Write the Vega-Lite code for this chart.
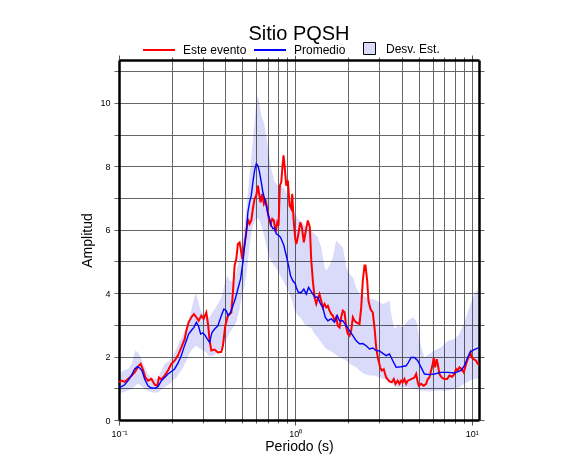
{
  "$schema": "https://vega.github.io/schema/vega-lite/v6.json",
  "width": 360,
  "height": 360,
  "autosize": {"type": "none"},
  "padding": {"left": 119, "top": 60, "right": 107, "bottom": 55},
  "background": "white",
  "config": {
    "font": "Liberation Sans",
    "view": {"stroke": null},
    "axis": {"labelFont": "Liberation Sans", "titleFont": "Liberation Sans", "labelColor": "black", "titleColor": "black", "titleFontWeight": "normal"}
  },
  "title": {"text": "Sitio PQSH", "fontSize": 20, "font": "Liberation Sans", "fontWeight": "normal", "color": "black", "anchor": "middle", "offset": -11},
  "datasets": {
    "banda": [
      {"periodo": 0.1, "sup": 1.40, "inf": 0.87},
      {"periodo": 0.1054, "sup": 1.56, "inf": 0.87},
      {"periodo": 0.1125, "sup": 1.61, "inf": 0.93},
      {"periodo": 0.1176, "sup": 1.75, "inf": 0.98},
      {"periodo": 0.1238, "sup": 2.19, "inf": 1.08},
      {"periodo": 0.1281, "sup": 2.13, "inf": 1.14},
      {"periodo": 0.1339, "sup": 1.92, "inf": 1.08},
      {"periodo": 0.1398, "sup": 1.66, "inf": 0.98},
      {"periodo": 0.146, "sup": 1.45, "inf": 0.92},
      {"periodo": 0.1558, "sup": 1.29, "inf": 0.87},
      {"periodo": 0.1663, "sup": 1.32, "inf": 0.87},
      {"periodo": 0.1739, "sup": 1.56, "inf": 0.95},
      {"periodo": 0.1815, "sup": 1.77, "inf": 1.03},
      {"periodo": 0.1938, "sup": 1.87, "inf": 1.14},
      {"periodo": 0.2023, "sup": 2.03, "inf": 1.25},
      {"periodo": 0.2115, "sup": 2.24, "inf": 1.34},
      {"periodo": 0.2208, "sup": 2.5, "inf": 1.5},
      {"periodo": 0.2305, "sup": 2.66, "inf": 1.65},
      {"periodo": 0.2409, "sup": 2.92, "inf": 1.87},
      {"periodo": 0.2515, "sup": 3.24, "inf": 2.1},
      {"periodo": 0.2592, "sup": 3.55, "inf": 2.22},
      {"periodo": 0.2685, "sup": 3.92, "inf": 2.3},
      {"periodo": 0.2745, "sup": 3.97, "inf": 2.34},
      {"periodo": 0.2803, "sup": 3.76, "inf": 2.3},
      {"periodo": 0.2903, "sup": 3.45, "inf": 2.24},
      {"periodo": 0.2991, "sup": 3.34, "inf": 2.2},
      {"periodo": 0.3127, "sup": 3.19, "inf": 2.13},
      {"periodo": 0.3265, "sup": 3.25, "inf": 2.0},
      {"periodo": 0.3485, "sup": 3.5, "inf": 2.05},
      {"periodo": 0.372, "sup": 3.75, "inf": 2.2},
      {"periodo": 0.3883, "sup": 4.0, "inf": 2.35},
      {"periodo": 0.4006, "sup": 4.4, "inf": 2.47},
      {"periodo": 0.4113, "sup": 4.55, "inf": 2.6},
      {"periodo": 0.4238, "sup": 4.39, "inf": 2.76},
      {"periodo": 0.4425, "sup": 4.34, "inf": 2.9},
      {"periodo": 0.4626, "sup": 4.66, "inf": 3.08},
      {"periodo": 0.4829, "sup": 5.18, "inf": 3.5},
      {"periodo": 0.4976, "sup": 5.6, "inf": 3.9},
      {"periodo": 0.5155, "sup": 6.13, "inf": 4.24},
      {"periodo": 0.534, "sup": 6.97, "inf": 4.8},
      {"periodo": 0.5501, "sup": 7.71, "inf": 5.5},
      {"periodo": 0.5669, "sup": 8.44, "inf": 5.98},
      {"periodo": 0.5819, "sup": 9.18, "inf": 6.2},
      {"periodo": 0.6004, "sup": 10.02, "inf": 6.34},
      {"periodo": 0.6131, "sup": 10.23, "inf": 6.36},
      {"periodo": 0.6269, "sup": 9.92, "inf": 6.28},
      {"periodo": 0.6409, "sup": 9.6, "inf": 6.15},
      {"periodo": 0.663, "sup": 9.39, "inf": 5.85},
      {"periodo": 0.6842, "sup": 8.97, "inf": 5.5},
      {"periodo": 0.7049, "sup": 8.44, "inf": 5.2},
      {"periodo": 0.7303, "sup": 7.92, "inf": 5.0},
      {"periodo": 0.7625, "sup": 7.5, "inf": 4.85},
      {"periodo": 0.7958, "sup": 7.39, "inf": 4.7},
      {"periodo": 0.8321, "sup": 7.39, "inf": 4.5},
      {"periodo": 0.8686, "sup": 7.29, "inf": 4.3},
      {"periodo": 0.9069, "sup": 7.08, "inf": 4.1},
      {"periodo": 0.948, "sup": 6.76, "inf": 3.85},
      {"periodo": 0.9897, "sup": 6.55, "inf": 3.47},
      {"periodo": 1.033, "sup": 6.34, "inf": 3.3},
      {"periodo": 1.08, "sup": 6.25, "inf": 3.2},
      {"periodo": 1.127, "sup": 6.15, "inf": 3.03},
      {"periodo": 1.177, "sup": 6.05, "inf": 2.95},
      {"periodo": 1.231, "sup": 5.97, "inf": 2.9},
      {"periodo": 1.285, "sup": 5.87, "inf": 2.72},
      {"periodo": 1.341, "sup": 5.76, "inf": 2.6},
      {"periodo": 1.402, "sup": 5.45, "inf": 2.45},
      {"periodo": 1.464, "sup": 4.82, "inf": 2.29},
      {"periodo": 1.497, "sup": 4.71, "inf": 2.25},
      {"periodo": 1.563, "sup": 4.87, "inf": 2.19},
      {"periodo": 1.631, "sup": 5.13, "inf": 2.13},
      {"periodo": 1.705, "sup": 5.66, "inf": 2.05},
      {"periodo": 1.78, "sup": 5.55, "inf": 1.97},
      {"periodo": 1.858, "sup": 5.45, "inf": 1.92},
      {"periodo": 1.943, "sup": 4.82, "inf": 1.87},
      {"periodo": 2.028, "sup": 4.61, "inf": 1.77},
      {"periodo": 2.118, "sup": 4.5, "inf": 1.72},
      {"periodo": 2.213, "sup": 4.18, "inf": 1.66},
      {"periodo": 2.311, "sup": 3.97, "inf": 1.56},
      {"periodo": 2.467, "sup": 3.9, "inf": 1.45},
      {"periodo": 2.633, "sup": 3.82, "inf": 1.4},
      {"periodo": 2.81, "sup": 3.8, "inf": 1.4},
      {"periodo": 3.0, "sup": 3.71, "inf": 1.34},
      {"periodo": 3.132, "sup": 3.66, "inf": 1.3},
      {"periodo": 3.273, "sup": 3.7, "inf": 1.27},
      {"periodo": 3.417, "sup": 3.76, "inf": 1.24},
      {"periodo": 3.494, "sup": 3.34, "inf": 1.2},
      {"periodo": 3.568, "sup": 3.1, "inf": 1.17},
      {"periodo": 3.648, "sup": 2.87, "inf": 1.05},
      {"periodo": 3.808, "sup": 2.97, "inf": 1.03},
      {"periodo": 4.065, "sup": 2.92, "inf": 1.03},
      {"periodo": 4.339, "sup": 3.13, "inf": 1.03},
      {"periodo": 4.631, "sup": 3.24, "inf": 1.0},
      {"periodo": 4.842, "sup": 3.13, "inf": 0.98},
      {"periodo": 5.008, "sup": 2.71, "inf": 0.95},
      {"periodo": 5.167, "sup": 2.29, "inf": 0.92},
      {"periodo": 5.395, "sup": 1.97, "inf": 0.92},
      {"periodo": 5.758, "sup": 2.08, "inf": 0.9},
      {"periodo": 6.148, "sup": 2.19, "inf": 0.92},
      {"periodo": 6.709, "sup": 2.29, "inf": 0.92},
      {"periodo": 7.311, "sup": 2.5, "inf": 0.93},
      {"periodo": 7.98, "sup": 2.55, "inf": 0.98},
      {"periodo": 8.517, "sup": 2.71, "inf": 1.03},
      {"periodo": 9.091, "sup": 3.08, "inf": 1.14},
      {"periodo": 9.705, "sup": 3.55, "inf": 1.24},
      {"periodo": 10.36, "sup": 3.97, "inf": 1.29},
      {"periodo": 11, "sup": 4.15, "inf": 1.3}
    ],
    "evento": [
      {"periodo": 0.1, "amplitud": 1.19},
      {"periodo": 0.1032, "amplitud": 1.24},
      {"periodo": 0.1077, "amplitud": 1.2},
      {"periodo": 0.115, "amplitud": 1.34},
      {"periodo": 0.1227, "amplitud": 1.5},
      {"periodo": 0.1293, "amplitud": 1.71},
      {"periodo": 0.1327, "amplitud": 1.77},
      {"periodo": 0.1368, "amplitud": 1.58},
      {"periodo": 0.1411, "amplitud": 1.34},
      {"periodo": 0.146, "amplitud": 1.24},
      {"periodo": 0.1526, "amplitud": 1.3},
      {"periodo": 0.1593, "amplitud": 1.11},
      {"periodo": 0.1651, "amplitud": 1.08},
      {"periodo": 0.1685, "amplitud": 1.34},
      {"periodo": 0.1739, "amplitud": 1.28},
      {"periodo": 0.1815, "amplitud": 1.4},
      {"periodo": 0.1895, "amplitud": 1.56},
      {"periodo": 0.1981, "amplitud": 1.77},
      {"periodo": 0.2068, "amplitud": 1.87},
      {"periodo": 0.2159, "amplitud": 2.03},
      {"periodo": 0.2257, "amplitud": 2.29},
      {"periodo": 0.2356, "amplitud": 2.55},
      {"periodo": 0.2409, "amplitud": 2.82},
      {"periodo": 0.2482, "amplitud": 3.08},
      {"periodo": 0.2572, "amplitud": 3.24},
      {"periodo": 0.266, "amplitud": 3.34},
      {"periodo": 0.2745, "amplitud": 3.24},
      {"periodo": 0.2829, "amplitud": 3.13},
      {"periodo": 0.293, "amplitud": 3.29},
      {"periodo": 0.3019, "amplitud": 3.19},
      {"periodo": 0.3127, "amplitud": 3.39},
      {"periodo": 0.3202, "amplitud": 3.0},
      {"periodo": 0.3265, "amplitud": 2.5},
      {"periodo": 0.3338, "amplitud": 2.19},
      {"periodo": 0.3485, "amplitud": 2.22},
      {"periodo": 0.3638, "amplitud": 2.13},
      {"periodo": 0.3803, "amplitud": 2.15},
      {"periodo": 0.3883, "amplitud": 2.34},
      {"periodo": 0.4006, "amplitud": 2.97},
      {"periodo": 0.4145, "amplitud": 3.29},
      {"periodo": 0.4333, "amplitud": 3.39},
      {"periodo": 0.4425, "amplitud": 4.02},
      {"periodo": 0.4524, "amplitud": 4.87},
      {"periodo": 0.4626, "amplitud": 5.08},
      {"periodo": 0.4723, "amplitud": 5.55},
      {"periodo": 0.4829, "amplitud": 5.6},
      {"periodo": 0.4937, "amplitud": 5.29},
      {"periodo": 0.5002, "amplitud": 5.08},
      {"periodo": 0.5108, "amplitud": 5.39},
      {"periodo": 0.527, "amplitud": 5.92},
      {"periodo": 0.5381, "amplitud": 6.34},
      {"periodo": 0.5501, "amplitud": 6.18},
      {"periodo": 0.5625, "amplitud": 6.29},
      {"periodo": 0.5744, "amplitud": 6.66},
      {"periodo": 0.5872, "amplitud": 6.97},
      {"periodo": 0.6004, "amplitud": 7.08},
      {"periodo": 0.6131, "amplitud": 7.39},
      {"periodo": 0.6211, "amplitud": 7.18},
      {"periodo": 0.635, "amplitud": 6.86},
      {"periodo": 0.6493, "amplitud": 7.13},
      {"periodo": 0.663, "amplitud": 6.81},
      {"periodo": 0.6779, "amplitud": 6.92},
      {"periodo": 0.6931, "amplitud": 6.66},
      {"periodo": 0.7077, "amplitud": 6.34},
      {"periodo": 0.7236, "amplitud": 6.18},
      {"periodo": 0.7398, "amplitud": 6.34},
      {"periodo": 0.7555, "amplitud": 6.29},
      {"periodo": 0.7724, "amplitud": 5.92},
      {"periodo": 0.7898, "amplitud": 6.23},
      {"periodo": 0.8032, "amplitud": 6.13},
      {"periodo": 0.817, "amplitud": 7.39},
      {"periodo": 0.8321, "amplitud": 7.5},
      {"periodo": 0.843, "amplitud": 7.92},
      {"periodo": 0.8573, "amplitud": 8.34},
      {"periodo": 0.8686, "amplitud": 8.02},
      {"periodo": 0.8881, "amplitud": 7.39},
      {"periodo": 0.9069, "amplitud": 7.55},
      {"periodo": 0.9272, "amplitud": 6.76},
      {"periodo": 0.948, "amplitud": 6.66},
      {"periodo": 0.9603, "amplitud": 7.13},
      {"periodo": 0.9768, "amplitud": 6.34},
      {"periodo": 0.999, "amplitud": 5.71},
      {"periodo": 1.012, "amplitud": 5.55},
      {"periodo": 1.033, "amplitud": 5.76},
      {"periodo": 1.066, "amplitud": 6.23},
      {"periodo": 1.089, "amplitud": 6.08},
      {"periodo": 1.117, "amplitud": 5.6},
      {"periodo": 1.147, "amplitud": 5.97},
      {"periodo": 1.177, "amplitud": 6.29},
      {"periodo": 1.208, "amplitud": 6.08},
      {"periodo": 1.231, "amplitud": 5.03},
      {"periodo": 1.257, "amplitud": 4.39},
      {"periodo": 1.285, "amplitud": 3.87},
      {"periodo": 1.314, "amplitud": 3.66},
      {"periodo": 1.341, "amplitud": 3.82},
      {"periodo": 1.371, "amplitud": 3.97},
      {"periodo": 1.402, "amplitud": 3.76},
      {"periodo": 1.431, "amplitud": 3.55},
      {"periodo": 1.464, "amplitud": 3.66},
      {"periodo": 1.497, "amplitud": 3.55},
      {"periodo": 1.528, "amplitud": 3.6},
      {"periodo": 1.563, "amplitud": 3.45},
      {"periodo": 1.598, "amplitud": 3.34},
      {"periodo": 1.631, "amplitud": 3.29},
      {"periodo": 1.668, "amplitud": 3.13},
      {"periodo": 1.705, "amplitud": 3.24},
      {"periodo": 1.741, "amplitud": 2.97},
      {"periodo": 1.78, "amplitud": 2.92},
      {"periodo": 1.82, "amplitud": 3.24},
      {"periodo": 1.858, "amplitud": 3.45},
      {"periodo": 1.9, "amplitud": 3.4},
      {"periodo": 1.943, "amplitud": 2.92},
      {"periodo": 1.984, "amplitud": 2.71},
      {"periodo": 2.028, "amplitud": 2.66},
      {"periodo": 2.074, "amplitud": 2.82},
      {"periodo": 2.118, "amplitud": 3.24},
      {"periodo": 2.165, "amplitud": 3.13},
      {"periodo": 2.213, "amplitud": 3.08},
      {"periodo": 2.311, "amplitud": 3.03},
      {"periodo": 2.363, "amplitud": 3.55},
      {"periodo": 2.412, "amplitud": 4.39},
      {"periodo": 2.467, "amplitud": 4.87},
      {"periodo": 2.499, "amplitud": 4.87},
      {"periodo": 2.555, "amplitud": 4.39},
      {"periodo": 2.598, "amplitud": 3.76},
      {"periodo": 2.667, "amplitud": 3.5},
      {"periodo": 2.748, "amplitud": 3.39},
      {"periodo": 2.81, "amplitud": 2.92},
      {"periodo": 2.873, "amplitud": 2.29},
      {"periodo": 2.934, "amplitud": 1.97},
      {"periodo": 3.027, "amplitud": 1.66},
      {"periodo": 3.091, "amplitud": 1.56},
      {"periodo": 3.172, "amplitud": 1.6},
      {"periodo": 3.273, "amplitud": 1.34},
      {"periodo": 3.417, "amplitud": 1.22},
      {"periodo": 3.522, "amplitud": 1.19},
      {"periodo": 3.615, "amplitud": 1.29},
      {"periodo": 3.696, "amplitud": 1.14},
      {"periodo": 3.808, "amplitud": 1.24},
      {"periodo": 3.894, "amplitud": 1.14},
      {"periodo": 3.981, "amplitud": 1.24},
      {"periodo": 4.065, "amplitud": 1.19},
      {"periodo": 4.156, "amplitud": 1.29},
      {"periodo": 4.249, "amplitud": 1.14},
      {"periodo": 4.339, "amplitud": 1.24},
      {"periodo": 4.536, "amplitud": 1.29},
      {"periodo": 4.736, "amplitud": 1.34},
      {"periodo": 4.842, "amplitud": 1.45},
      {"periodo": 4.944, "amplitud": 1.19},
      {"periodo": 5.008, "amplitud": 1.08},
      {"periodo": 5.167, "amplitud": 1.14},
      {"periodo": 5.346, "amplitud": 1.08},
      {"periodo": 5.516, "amplitud": 1.14},
      {"periodo": 5.632, "amplitud": 1.29},
      {"periodo": 5.758, "amplitud": 1.34},
      {"periodo": 5.888, "amplitud": 1.56},
      {"periodo": 6.012, "amplitud": 1.77},
      {"periodo": 6.091, "amplitud": 1.96},
      {"periodo": 6.203, "amplitud": 1.66},
      {"periodo": 6.334, "amplitud": 1.92},
      {"periodo": 6.418, "amplitud": 1.77},
      {"periodo": 6.561, "amplitud": 1.45},
      {"periodo": 6.761, "amplitud": 1.34},
      {"periodo": 7.003, "amplitud": 1.29},
      {"periodo": 7.254, "amplitud": 1.29},
      {"periodo": 7.476, "amplitud": 1.4},
      {"periodo": 7.745, "amplitud": 1.36},
      {"periodo": 7.98, "amplitud": 1.45},
      {"periodo": 8.158, "amplitud": 1.61},
      {"periodo": 8.33, "amplitud": 1.56},
      {"periodo": 8.517, "amplitud": 1.66},
      {"periodo": 8.776, "amplitud": 1.6},
      {"periodo": 9.009, "amplitud": 1.5},
      {"periodo": 9.296, "amplitud": 1.77},
      {"periodo": 9.492, "amplitud": 1.92},
      {"periodo": 9.832, "amplitud": 2.13},
      {"periodo": 10.0, "amplitud": 1.97},
      {"periodo": 10.26, "amplitud": 1.92},
      {"periodo": 10.59, "amplitud": 1.87},
      {"periodo": 10.81, "amplitud": 1.77},
      {"periodo": 11, "amplitud": 1.75}
    ],
    "promedio": [
      {"periodo": 0.1, "amplitud": 1.03},
      {"periodo": 0.1032, "amplitud": 1.05},
      {"periodo": 0.1077, "amplitud": 1.11},
      {"periodo": 0.1125, "amplitud": 1.24},
      {"periodo": 0.1176, "amplitud": 1.4},
      {"periodo": 0.1227, "amplitud": 1.61},
      {"periodo": 0.1271, "amplitud": 1.68},
      {"periodo": 0.131, "amplitud": 1.64},
      {"periodo": 0.135, "amplitud": 1.56},
      {"periodo": 0.1398, "amplitud": 1.29},
      {"periodo": 0.146, "amplitud": 1.08},
      {"periodo": 0.1526, "amplitud": 1.01},
      {"periodo": 0.1593, "amplitud": 1.0},
      {"periodo": 0.1663, "amplitud": 1.05},
      {"periodo": 0.1739, "amplitud": 1.24},
      {"periodo": 0.1815, "amplitud": 1.34},
      {"periodo": 0.1895, "amplitud": 1.45},
      {"periodo": 0.1981, "amplitud": 1.53},
      {"periodo": 0.2068, "amplitud": 1.61},
      {"periodo": 0.2159, "amplitud": 1.79},
      {"periodo": 0.2257, "amplitud": 2.03},
      {"periodo": 0.2335, "amplitud": 2.29},
      {"periodo": 0.2409, "amplitud": 2.5},
      {"periodo": 0.2482, "amplitud": 2.71},
      {"periodo": 0.2572, "amplitud": 2.82},
      {"periodo": 0.266, "amplitud": 2.92},
      {"periodo": 0.2745, "amplitud": 3.08},
      {"periodo": 0.2829, "amplitud": 2.95},
      {"periodo": 0.2903, "amplitud": 2.71},
      {"periodo": 0.2991, "amplitud": 2.75},
      {"periodo": 0.3086, "amplitud": 2.66},
      {"periodo": 0.3168, "amplitud": 2.55},
      {"periodo": 0.3265, "amplitud": 2.45},
      {"periodo": 0.3365, "amplitud": 2.76},
      {"periodo": 0.3485, "amplitud": 2.87},
      {"periodo": 0.3638, "amplitud": 2.97},
      {"periodo": 0.3803, "amplitud": 3.29},
      {"periodo": 0.3934, "amplitud": 3.5},
      {"periodo": 0.4059, "amplitud": 3.45},
      {"periodo": 0.4145, "amplitud": 3.29},
      {"periodo": 0.4294, "amplitud": 3.39},
      {"periodo": 0.4425, "amplitud": 3.6},
      {"periodo": 0.4566, "amplitud": 3.82},
      {"periodo": 0.4723, "amplitud": 4.13},
      {"periodo": 0.4892, "amplitud": 4.45},
      {"periodo": 0.5041, "amplitud": 4.97},
      {"periodo": 0.5155, "amplitud": 5.5},
      {"periodo": 0.527, "amplitud": 5.92},
      {"periodo": 0.5381, "amplitud": 6.55},
      {"periodo": 0.5501, "amplitud": 6.86},
      {"periodo": 0.5625, "amplitud": 7.08},
      {"periodo": 0.5744, "amplitud": 7.5},
      {"periodo": 0.5872, "amplitud": 7.86},
      {"periodo": 0.6004, "amplitud": 8.08},
      {"periodo": 0.6131, "amplitud": 8.02},
      {"periodo": 0.6269, "amplitud": 7.81},
      {"periodo": 0.6409, "amplitud": 7.5},
      {"periodo": 0.6545, "amplitud": 7.18},
      {"periodo": 0.6692, "amplitud": 6.97},
      {"periodo": 0.6842, "amplitud": 6.76},
      {"periodo": 0.6987, "amplitud": 6.5},
      {"periodo": 0.7143, "amplitud": 6.34},
      {"periodo": 0.7303, "amplitud": 6.13},
      {"periodo": 0.7457, "amplitud": 6.03},
      {"periodo": 0.7625, "amplitud": 6.05},
      {"periodo": 0.7796, "amplitud": 5.87},
      {"periodo": 0.8032, "amplitud": 5.82},
      {"periodo": 0.8245, "amplitud": 5.76},
      {"periodo": 0.8386, "amplitud": 5.66},
      {"periodo": 0.8608, "amplitud": 5.5},
      {"periodo": 0.8881, "amplitud": 5.18},
      {"periodo": 0.9151, "amplitud": 4.87},
      {"periodo": 0.9393, "amplitud": 4.55},
      {"periodo": 0.9679, "amplitud": 4.39},
      {"periodo": 0.999, "amplitud": 4.3},
      {"periodo": 1.012, "amplitud": 4.18},
      {"periodo": 1.042, "amplitud": 4.02},
      {"periodo": 1.08, "amplitud": 4.02},
      {"periodo": 1.117, "amplitud": 4.13},
      {"periodo": 1.153, "amplitud": 3.97},
      {"periodo": 1.188, "amplitud": 4.18},
      {"periodo": 1.22, "amplitud": 4.08},
      {"periodo": 1.257, "amplitud": 3.97},
      {"periodo": 1.296, "amplitud": 3.87},
      {"periodo": 1.341, "amplitud": 3.87},
      {"periodo": 1.389, "amplitud": 3.66},
      {"periodo": 1.431, "amplitud": 3.55},
      {"periodo": 1.477, "amplitud": 3.24},
      {"periodo": 1.528, "amplitud": 3.13},
      {"periodo": 1.598, "amplitud": 3.19},
      {"periodo": 1.668, "amplitud": 3.08},
      {"periodo": 1.728, "amplitud": 3.29},
      {"periodo": 1.78, "amplitud": 3.13},
      {"periodo": 1.858, "amplitud": 3.13},
      {"periodo": 1.943, "amplitud": 2.97},
      {"periodo": 2.028, "amplitud": 2.82},
      {"periodo": 2.118, "amplitud": 2.66},
      {"periodo": 2.213, "amplitud": 2.5},
      {"periodo": 2.311, "amplitud": 2.4},
      {"periodo": 2.412, "amplitud": 2.41},
      {"periodo": 2.522, "amplitud": 2.34},
      {"periodo": 2.633, "amplitud": 2.24},
      {"periodo": 2.748, "amplitud": 2.27},
      {"periodo": 2.873, "amplitud": 2.19},
      {"periodo": 3.0, "amplitud": 2.18},
      {"periodo": 3.132, "amplitud": 2.1},
      {"periodo": 3.273, "amplitud": 2.03},
      {"periodo": 3.417, "amplitud": 2.08},
      {"periodo": 3.568, "amplitud": 1.87},
      {"periodo": 3.73, "amplitud": 1.66},
      {"periodo": 3.981, "amplitud": 1.68},
      {"periodo": 4.249, "amplitud": 1.71},
      {"periodo": 4.379, "amplitud": 1.82},
      {"periodo": 4.536, "amplitud": 1.97},
      {"periodo": 4.736, "amplitud": 1.97},
      {"periodo": 4.944, "amplitud": 1.87},
      {"periodo": 5.167, "amplitud": 1.66},
      {"periodo": 5.395, "amplitud": 1.45},
      {"periodo": 5.758, "amplitud": 1.43},
      {"periodo": 6.148, "amplitud": 1.45},
      {"periodo": 6.709, "amplitud": 1.5},
      {"periodo": 7.311, "amplitud": 1.5},
      {"periodo": 7.98, "amplitud": 1.48},
      {"periodo": 8.71, "amplitud": 1.56},
      {"periodo": 9.091, "amplitud": 1.71},
      {"periodo": 9.492, "amplitud": 1.97},
      {"periodo": 9.832, "amplitud": 2.15},
      {"periodo": 10.26, "amplitud": 2.21},
      {"periodo": 10.73, "amplitud": 2.26},
      {"periodo": 11, "amplitud": 2.28}
    ]
  },
  "resolve": {"axis": {"x": "independent", "y": "independent"}},
  "layer": [
    {
      "data": {"name": "banda"},
      "transform": [{"calculate": "'Desv. Est.'", "as": "serie"}],
      "mark": {"type": "area", "blend": "multiply", "opacity": 1},
      "encoding": {
        "x": {
          "field": "periodo", "type": "quantitative",
          "scale": {"type": "log", "domain": [0.1, 11], "nice": false},
          "axis": {
            "orient": "bottom",
            "values": [0.1, 0.2, 0.3, 0.4, 0.5, 0.6, 0.7, 0.8, 0.9, 1, 2, 3, 4, 5, 6, 7, 8, 9, 10],
            "labelExpr": "datum.value == 0.1 ? '10⁻¹' : datum.value == 1 ? '10⁰' : datum.value == 10 ? '10¹' : ''",
            "labelFontSize": 9, "labelFlush": false, "labelOverlap": false, "labelPadding": 4,
            "grid": true, "gridColor": "#666666", "gridWidth": 1,
            "domain": true, "domainColor": "black", "domainWidth": 2.5,
            "ticks": true, "tickColor": "#555555", "tickWidth": 1,
            "tickSize": {"condition": {"test": "datum.value == 0.1 || datum.value == 1 || datum.value == 10", "value": 5}, "value": 3},
            "title": "Periodo (s)", "titleFontSize": 14, "titlePadding": 1
          }
        },
        "y": {
          "field": "sup", "type": "quantitative",
          "scale": {"domain": [0, 11.35], "nice": false, "zero": true},
          "axis": {
            "orient": "left",
            "values": [0, 1, 2, 3, 4, 5, 6, 7, 8, 9, 10, 11],
            "labelExpr": "datum.value % 2 == 0 ? datum.label : ''",
            "labelFontSize": 9, "labelFlush": false, "labelOverlap": false, "labelPadding": 4,
            "grid": true, "gridColor": "#666666", "gridWidth": 1,
            "domain": true, "domainColor": "black", "domainWidth": 2.5,
            "ticks": true, "tickColor": "#666666", "tickWidth": 1, "tickSize": 5,
            "title": "Amplitud", "titleFontSize": 14, "titlePadding": 5
          }
        },
        "y2": {"field": "inf"},
        "fill": {
          "field": "serie", "type": "nominal",
          "scale": {"domain": ["Desv. Est."], "range": ["#dadafa"]},
          "legend": {
            "orient": "none", "legendX": 244, "legendY": -18, "title": null,
            "symbolType": "square", "symbolSize": 144, "symbolStrokeColor": "black", "symbolStrokeWidth": 1,
            "labelFontSize": 12, "labelFont": "Liberation Sans", "labelColor": "black", "labelOffset": 10, "padding": 0
          }
        }
      }
    },
    {
      "data": {"name": "evento"},
      "transform": [{"calculate": "'Este evento'", "as": "serie"}],
      "mark": {"type": "line", "strokeWidth": 2, "interpolate": "linear"},
      "encoding": {
        "x": {
          "field": "periodo", "type": "quantitative",
          "axis": {
            "orient": "top",
            "values": [0.1, 0.2, 0.3, 0.4, 0.5, 0.6, 0.7, 0.8, 0.9, 1, 2, 3, 4, 5, 6, 7, 8, 9, 10],
            "labels": false, "grid": false, "title": null,
            "domain": true, "domainColor": "black", "domainWidth": 2.5,
            "ticks": true, "tickColor": "#555555", "tickWidth": 1,
            "tickSize": {"condition": {"test": "datum.value == 0.1 || datum.value == 1 || datum.value == 10", "value": 5}, "value": 3}
          }
        },
        "y": {
          "field": "amplitud", "type": "quantitative",
          "axis": {
            "orient": "right",
            "values": [0, 1, 2, 3, 4, 5, 6, 7, 8, 9, 10, 11],
            "labels": false, "grid": false, "title": null,
            "domain": true, "domainColor": "black", "domainWidth": 2.5,
            "ticks": true, "tickColor": "#666666", "tickWidth": 1, "tickSize": 5
          }
        },
        "stroke": {
          "field": "serie", "type": "nominal",
          "scale": {"domain": ["Este evento", "Promedio"], "range": ["#ff0000", "#0000ff"]},
          "legend": {
            "orient": "none", "legendX": 23, "legendY": -27, "title": null, "direction": "horizontal",
            "symbolType": "stroke", "symbolSize": 1024, "symbolStrokeWidth": 2,
            "labelFontSize": 12, "labelFont": "Liberation Sans", "labelColor": "black", "labelOffset": 7,
            "columnPadding": 3, "padding": 0
          }
        }
      }
    },
    {
      "data": {"name": "promedio"},
      "transform": [{"calculate": "'Promedio'", "as": "serie"}],
      "mark": {"type": "line", "strokeWidth": 1.4, "interpolate": "linear"},
      "encoding": {
        "x": {"field": "periodo", "type": "quantitative", "axis": null},
        "y": {"field": "amplitud", "type": "quantitative", "axis": null},
        "stroke": {"field": "serie", "type": "nominal"}
      }
    }
  ]
}
